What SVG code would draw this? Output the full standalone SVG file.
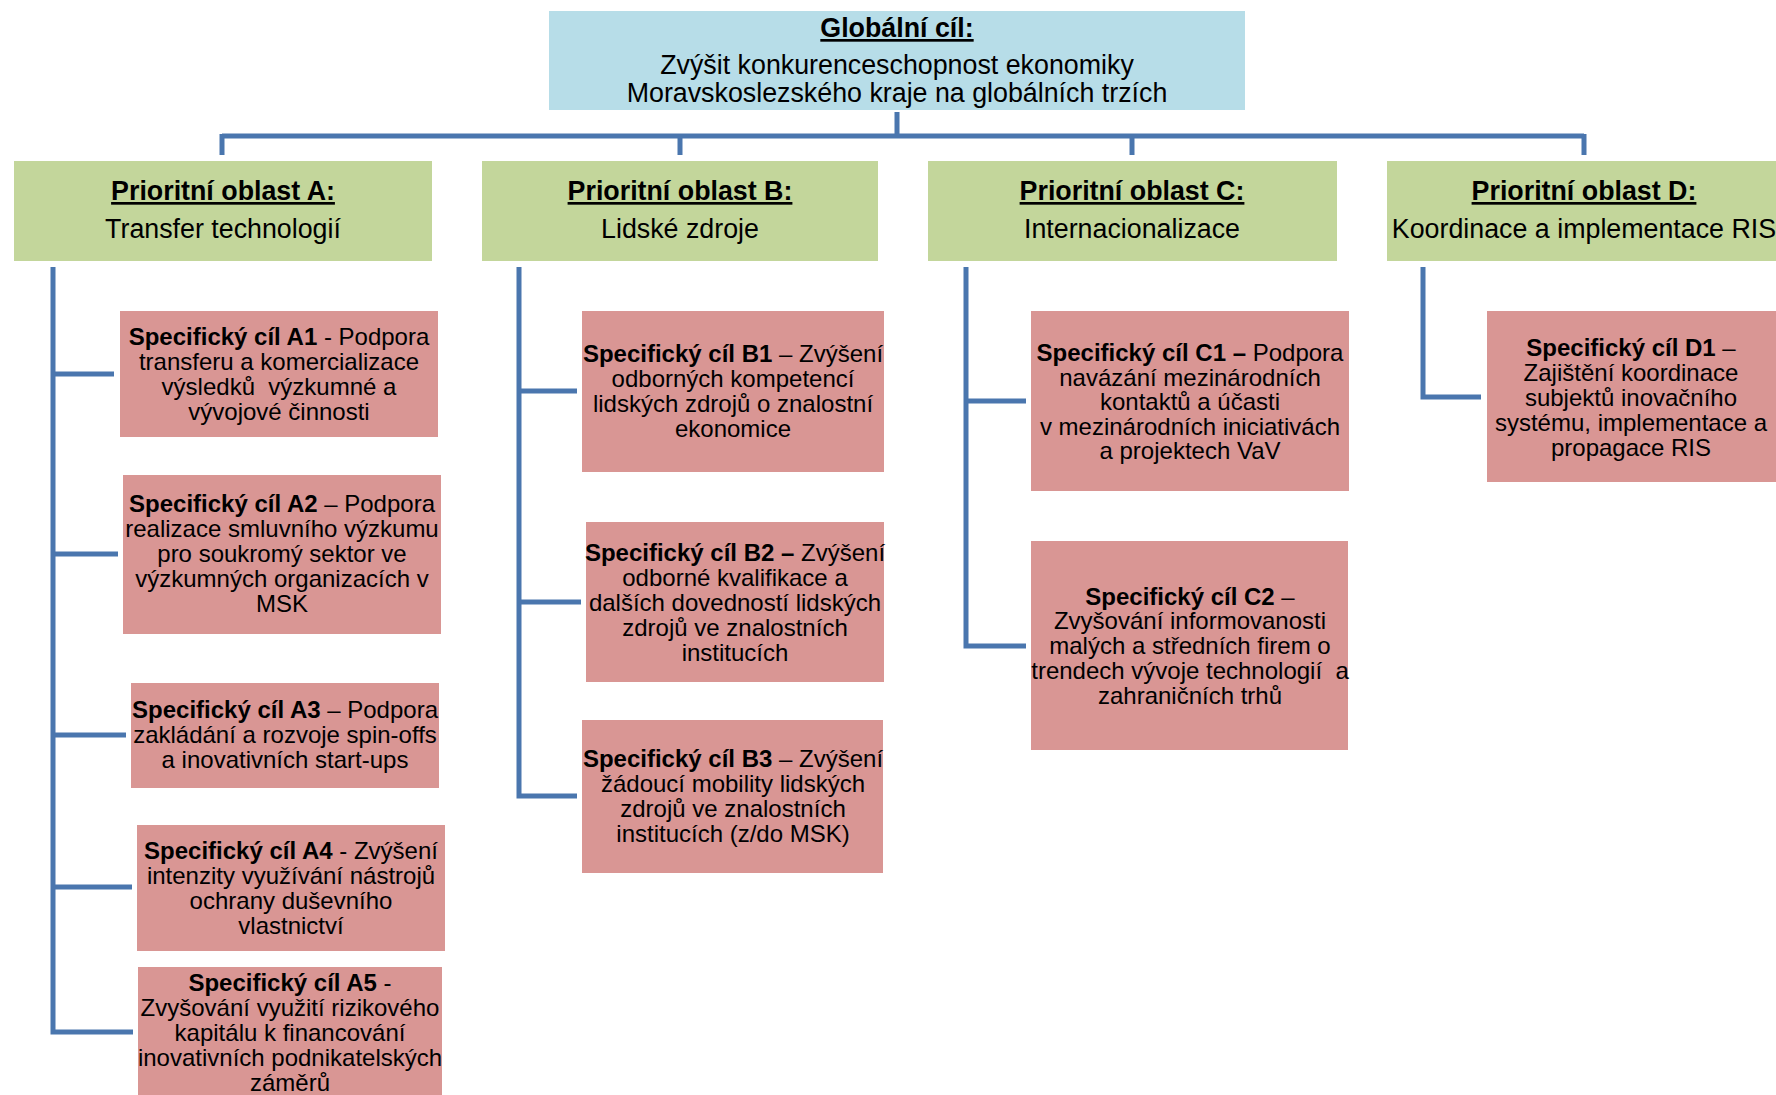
<svg xmlns="http://www.w3.org/2000/svg" width="1776" height="1095" viewBox="0 0 1776 1095">
<style>
text{font-family:"Liberation Sans",Arial,sans-serif;fill:#000;text-anchor:middle}
.g{fill:#B7DDE8}
.p{fill:#C3D69B}
.s{fill:#D99694}
.hd{font-size:26.8px;font-weight:bold;text-decoration:underline}
.ln{font-size:26.8px}
.t{font-size:24px}
.b{font-weight:bold}
.c{fill:none;stroke:#4A76AE;stroke-width:5;stroke-linejoin:miter}
</style>
<rect width="1776" height="1095" fill="#fff"/>
<g id="connectors">
<path class="c" d="M897 112V136M222 136H1584M222 134V155M680 134V155M1132 134V155M1584 134V155"/>
<path class="c" d="M53 267V1032H133M53 374H114M53 554H118M53 735H126M53 887H132"/>
<path class="c" d="M519 267V796H577M519 391H577M519 602H581"/>
<path class="c" d="M966 267V646H1026M966 401H1026"/>
<path class="c" d="M1423 267V397H1481"/>
</g>
<g id="global">
<rect class="g" x="549" y="11" width="696" height="99"/>
<text class="hd" x="897" y="37">Globální cíl:</text>
<text class="ln" x="897" y="74">Zvýšit konkurenceschopnost ekonomiky</text>
<text class="ln" x="897" y="102">Moravskoslezského kraje na globálních trzích</text>
</g>
<g id="pa">
<rect class="p" x="14" y="161" width="418" height="100"/>
<text class="hd" x="223" y="200">Prioritní oblast A:</text>
<text class="ln" x="223" y="238">Transfer technologií</text>
</g>
<g id="pb">
<rect class="p" x="482" y="161" width="396" height="100"/>
<text class="hd" x="680" y="200">Prioritní oblast B:</text>
<text class="ln" x="680" y="238">Lidské zdroje</text>
</g>
<g id="pc">
<rect class="p" x="928" y="161" width="409" height="100"/>
<text class="hd" x="1132" y="200">Prioritní oblast C:</text>
<text class="ln" x="1132" y="238">Internacionalizace</text>
</g>
<g id="pd">
<rect class="p" x="1387" y="161" width="395" height="100"/>
<text class="hd" x="1584" y="200">Prioritní oblast D:</text>
<text class="ln" x="1584" y="238">Koordinace a implementace RIS</text>
</g>
<g id="a1">
<rect class="s" x="120" y="311" width="318" height="126"/>
<text class="t" x="279" y="344.5"><tspan class="b">Specifický cíl A1</tspan> - Podpora</text>
<text class="t" x="279" y="369.5">transferu a komercializace</text>
<text class="t" x="279" y="394.5" xml:space="preserve">výsledků  výzkumné a</text>
<text class="t" x="279" y="419.5">vývojové činnosti</text>
</g>
<g id="a2">
<rect class="s" x="123" y="475" width="318" height="159"/>
<text class="t" x="282" y="511.5"><tspan class="b">Specifický cíl A2</tspan> – Podpora</text>
<text class="t" x="282" y="536.5">realizace smluvního výzkumu</text>
<text class="t" x="282" y="561.5">pro soukromý sektor ve</text>
<text class="t" x="282" y="586.5">výzkumných organizacích v</text>
<text class="t" x="282" y="611.5">MSK</text>
</g>
<g id="a3">
<rect class="s" x="131" y="683" width="308" height="105"/>
<text class="t" x="285" y="717.5"><tspan class="b">Specifický cíl A3</tspan> – Podpora</text>
<text class="t" x="285" y="742.5">zakládání a rozvoje spin-offs</text>
<text class="t" x="285" y="767.5">a inovativních start-ups</text>
</g>
<g id="a4">
<rect class="s" x="137" y="825" width="308" height="126"/>
<text class="t" x="291" y="858.5"><tspan class="b">Specifický cíl A4</tspan> - Zvýšení</text>
<text class="t" x="291" y="883.5">intenzity využívání nástrojů</text>
<text class="t" x="291" y="908.5">ochrany duševního</text>
<text class="t" x="291" y="933.5">vlastnictví</text>
</g>
<g id="a5">
<rect class="s" x="138" y="967" width="304" height="140"/>
<text class="t" x="290" y="990.5"><tspan class="b">Specifický cíl A5</tspan> -</text>
<text class="t" x="290" y="1015.5">Zvyšování využití rizikového</text>
<text class="t" x="290" y="1040.5">kapitálu k financování</text>
<text class="t" x="290" y="1065.5">inovativních podnikatelských</text>
<text class="t" x="290" y="1090.5">záměrů</text>
</g>
<g id="b1">
<rect class="s" x="582" y="311" width="302" height="161"/>
<text class="t" x="733" y="362"><tspan class="b">Specifický cíl B1</tspan> – Zvýšení</text>
<text class="t" x="733" y="387">odborných kompetencí</text>
<text class="t" x="733" y="412">lidských zdrojů o znalostní</text>
<text class="t" x="733" y="437">ekonomice</text>
</g>
<g id="b2">
<rect class="s" x="586" y="522" width="298" height="160"/>
<text class="t" x="735" y="560.5"><tspan class="b">Specifický cíl B2 –</tspan> Zvýšení</text>
<text class="t" x="735" y="585.5">odborné kvalifikace a</text>
<text class="t" x="735" y="610.5">dalších dovedností lidských</text>
<text class="t" x="735" y="635.5">zdrojů ve znalostních</text>
<text class="t" x="735" y="660.5">institucích</text>
</g>
<g id="b3">
<rect class="s" x="582" y="720" width="301" height="153"/>
<text class="t" x="733" y="766.5"><tspan class="b">Specifický cíl B3</tspan> – Zvýšení</text>
<text class="t" x="733" y="791.5">žádoucí mobility lidských</text>
<text class="t" x="733" y="816.5">zdrojů ve znalostních</text>
<text class="t" x="733" y="841.5">institucích (z/do MSK)</text>
</g>
<g id="c1">
<rect class="s" x="1031" y="311" width="318" height="180"/>
<text class="t" x="1190" y="360.5"><tspan class="b">Specifický cíl C1 –</tspan> Podpora</text>
<text class="t" x="1190" y="385.5">navázání mezinárodních</text>
<text class="t" x="1190" y="410">kontaktů a účasti</text>
<text class="t" x="1190" y="434.5">v mezinárodních iniciativách</text>
<text class="t" x="1190" y="458.5">a projektech VaV</text>
</g>
<g id="c2">
<rect class="s" x="1031" y="541" width="317" height="209"/>
<text class="t" x="1190" y="604.5"><tspan class="b">Specifický cíl C2</tspan> –</text>
<text class="t" x="1190" y="629">Zvyšování informovanosti</text>
<text class="t" x="1190" y="654">malých a středních firem o</text>
<text class="t" x="1190" y="679" xml:space="preserve">trendech vývoje technologií  a</text>
<text class="t" x="1190" y="703.5">zahraničních trhů</text>
</g>
<g id="d1">
<rect class="s" x="1487" y="311" width="289" height="171"/>
<text class="t" x="1631" y="355.5"><tspan class="b">Specifický cíl D1</tspan> –</text>
<text class="t" x="1631" y="380.5">Zajištění koordinace</text>
<text class="t" x="1631" y="405.5">subjektů inovačního</text>
<text class="t" x="1631" y="430.5">systému, implementace a</text>
<text class="t" x="1631" y="455.5">propagace RIS</text>
</g>
</svg>
